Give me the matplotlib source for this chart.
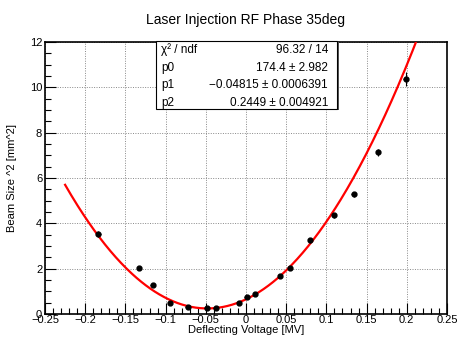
import numpy as np
import matplotlib
matplotlib.use("Agg")
import matplotlib.pyplot as plt
from matplotlib.ticker import MultipleLocator
from matplotlib.patches import Rectangle

plt.rcParams['font.family'] = ['Liberation Sans', 'DejaVu Sans']

title = "Laser Injection RF Phase 35deg"
xlabel = "Deflecting Voltage [MV]"
ylabel = "Beam Size ^2 [mm^2]"

x = [-0.1837, -0.133, -0.116, -0.0945, -0.0725, -0.049, -0.0377, -0.0087, 0.0009,
     0.0112, 0.0423, 0.0547, 0.0796, 0.1095, 0.134, 0.1642, 0.1986]
y = [3.53, 2.01, 1.29, 0.50, 0.33, 0.25, 0.25, 0.50, 0.76,
     0.88, 1.66, 2.03, 3.25, 4.35, 5.28, 7.13, 10.37]
xerr = [0.003] * 17
yerr = [0.12, 0.08, 0.06, 0.04, 0.04, 0.04, 0.04, 0.05, 0.05,
        0.05, 0.07, 0.08, 0.10, 0.12, 0.12, 0.15, 0.30]

p0, p1, p2 = 174.4, -0.04815, 0.2449
fit_range = (-0.225, 0.225)

stats_labels = ["χ² / ndf", "p0", "p1", "p2"]
stats_values = ["96.32 / 14", "174.4 ± 2.982", "−0.04815 ± 0.0006391", "0.2449 ± 0.004921"]

W, H = 457, 338
fig = plt.figure(figsize=(W / 100, H / 100), dpi=100)
ax = fig.add_axes([45 / W, 1 - 314 / H, (447 - 45) / W, (314 - 42) / H])

xf = np.linspace(fit_range[0], fit_range[1], 400)
yf = p0 * (xf - p1) ** 2 + p2
ax.plot(xf, yf, color='#ff0000', lw=1.6, zorder=3, clip_on=True)

ax.errorbar(x, y, xerr=xerr, yerr=yerr, fmt='o', color='black', ms=3.5,
            elinewidth=0.8, capsize=0, zorder=4)

ax.set_xlim(-0.25, 0.25)
ax.set_ylim(0, 12)
ax.xaxis.set_major_locator(MultipleLocator(0.05))
ax.xaxis.set_minor_locator(MultipleLocator(0.01))
ax.yaxis.set_major_locator(MultipleLocator(2))
ax.yaxis.set_minor_locator(MultipleLocator(0.5))
ax.xaxis.set_major_formatter(matplotlib.ticker.FuncFormatter(
    lambda v, p: ("%g" % round(v, 3)).replace("-", "−")))
ax.yaxis.set_major_formatter(matplotlib.ticker.FuncFormatter(lambda v, p: "%g" % v))
ax.tick_params(which='major', direction='in', length=8, width=0.8, labelsize=8, pad=2)
ax.tick_params(axis='x', which='major', pad=1)
ax.tick_params(which='minor', direction='in', length=4, width=0.8)
ax.grid(True, which='major', linestyle=(0, (1, 1.5)), color='#888888', lw=0.7)
for s in ax.spines.values():
    s.set_linewidth(1.2)

ax.set_xlabel(xlabel, fontsize=8, labelpad=0)
ax.set_ylabel(ylabel, fontsize=8)
ax.yaxis.set_label_coords((17 - 45) / 402, 0.5)
fig.text(246 / W, 1 - 20 / H, title, ha='center', va='center', fontsize=10)

# stats box
bx0, bx1, by0, by1 = 156, 337, 41, 109
fig.add_artist(Rectangle(((bx0 + 1.5) / W, 1 - (by1 + 1.5) / H), (bx1 - bx0) / W, (by1 - by0) / H,
                         transform=fig.transFigure, facecolor='#555555', edgecolor='none', zorder=9))
fig.add_artist(Rectangle((bx0 / W, 1 - by1 / H), (bx1 - bx0) / W, (by1 - by0) / H,
                         transform=fig.transFigure, facecolor='white', edgecolor='black',
                         lw=0.8, zorder=10))
rows = [50, 67.7, 85, 102.7]
for lab, val, ry in zip(stats_labels, stats_values, rows):
    fig.text((bx0 + 5) / W, 1 - ry / H, lab, ha='left', va='center', fontsize=8.5, zorder=11)
    fig.text((bx1 - 9) / W, 1 - ry / H, val, ha='right', va='center', fontsize=8.5, zorder=11)

fig.savefig("out.png", dpi=100)
